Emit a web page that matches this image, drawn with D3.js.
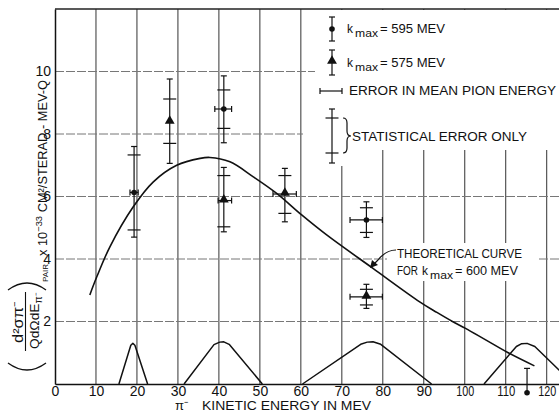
<!DOCTYPE html>
<html>
<head>
<meta charset="utf-8">
<script src="https://cdn.jsdelivr.net/npm/d3@7"></script>
<style>
  body { margin: 0; background: #fff; }
  text { font-family: "Liberation Sans", Arial, sans-serif; fill: #111; }
</style>
</head>
<body>
<script>
// tick labels
var xTicks = [0, 10, 20, 30, 40, 50, 60, 70, 80, 90, 100, 110, 120];
var yTicks = [2, 4, 6, 8, 10];

// theoretical curve for kmax = 600 MeV  (MeV, value)
var curveEnergy = [8.5, 10.2, 13.4, 19.1, 24, 29.7, 35.4, 37.8, 42.7, 48.4, 54.1, 60.2, 66.3, 77.6, 89, 93.2, 97, 100.2, 105, 110.6, 117];
var curveValue  = [2.85, 3.43, 4.39, 5.67, 6.47, 7.0, 7.22, 7.25, 7.11, 6.63, 6.1, 5.41, 4.77, 3.7, 2.63, 2.29, 2.0, 1.78, 1.42, 1.0, 0.58];

// energy resolution bumps along the bottom
var bumpEnergy = [
  [15.6, 18.5, 19, 19.5, 22.6],
  [31.5, 38.8, 40.2, 41.2, 42.5, 50.6],
  [60.4, 74.6, 76.2, 77.6, 79.5, 91.9],
  [104.7, 112.6, 113.9, 115.2, 117.1, 126.5]
];
var bumpValue = [
  [0, 1.24, 1.3, 1.24, 0],
  [0, 1.26, 1.34, 1.35, 1.27, 0],
  [0, 1.27, 1.34, 1.35, 1.27, 0],
  [0, 1.2, 1.29, 1.3, 1.2, 0]
];

// kmax = 595 MeV (circles)
var c595Energy = [19.3, 41.2, 76, 115.2];
var c595Value  = [6.13, 8.8, 5.25, -0.28];
var c595ELo    = [18.3, 39, 72, null];
var c595EHi    = [20.3, 43.1, 79.9, null];
var c595TotLo  = [4.7, 7.72, 4.69, -0.28];
var c595TotHi  = [7.6, 9.86, 5.83, 0.5];
var c595StatLo = [4.93, 8.18, 4.85, null];
var c595StatHi = [7.33, 9.41, 5.64, null];

// kmax = 575 MeV (triangles)
var t575Energy = [28, 41.2, 56.1, 76];
var t575Value  = [8.39, 5.87, 6.08, 2.79];
var t575ELo    = [null, 39.8, 53.2, 72];
var t575EHi    = [null, 43.1, 58.9, 79.9];
var t575TotLo  = [7.06, 4.87, 5.19, 2.42];
var t575TotHi  = [9.76, 6.93, 6.9, 3.19];
var t575StatLo = [7.7, 5.03, 5.46, 2.53];
var t575StatHi = [9.12, 6.67, 6.67, 3.03];

var W = 559, H = 413;
var x = d3.scaleLinear().domain([0, 123]).range([55, 559]);
var y = d3.scaleLinear().domain([0, 12]).range([384, 9]);

var svg = d3.select("body").append("svg").attr("width", W).attr("height", H);

// grid
svg.append("g").selectAll("line").data(xTicks.slice(1)).enter().append("line")
  .attr("x1", function(d){ return x(d); }).attr("x2", function(d){ return x(d); })
  .attr("y1", y(12)).attr("y2", y(0))
  .style("stroke", "#333").style("stroke-width", 1);
svg.append("g").selectAll("line").data(yTicks).enter().append("line")
  .attr("x1", x(0)).attr("x2", W)
  .attr("y1", function(d){ return y(d); }).attr("y2", function(d){ return y(d); })
  .style("stroke", "#777").style("stroke-width", 1).style("stroke-dasharray", "9,2");

// white areas behind legend and curve label
svg.append("rect").attr("x", 315).attr("y", 10).attr("width", 244).attr("height", 140).style("fill", "#fff");
svg.append("rect").attr("x", 303).attr("y", 100).attr("width", 60).attr("height", 66).style("fill", "#fff");
svg.append("rect").attr("x", 387).attr("y", 243).attr("width", 150).attr("height", 38).style("fill", "#fff");

// frame
svg.append("line").attr("x1", x(0)).attr("x2", W).attr("y1", y(12)).attr("y2", y(12))
  .style("stroke", "#222").style("stroke-width", 1.3);

var xAxis = svg.append("g").attr("transform", "translate(0," + y(0) + ")")
  .call(d3.axisBottom(x).tickValues(xTicks).tickSize(0).tickSizeOuter(0).tickPadding(2).tickFormat(d3.format("d")));
var yAxis = svg.append("g").attr("transform", "translate(" + x(0) + ",0)")
  .call(d3.axisLeft(y).tickValues(yTicks).tickSize(0).tickSizeOuter(0).tickPadding(4).tickFormat(d3.format("d")));
[xAxis, yAxis].forEach(function(a){
  a.select(".domain").style("stroke", "#111").style("stroke-width", 1.5);
  a.selectAll("text").style("font-size", "14px").style("fill", "#111")
    .style("font-family", "'Liberation Sans', Arial, sans-serif");
});
xAxis.selectAll(".tick text").filter(function(d){ return d >= 100; })
  .attr("textLength", 18).attr("lengthAdjust", "spacingAndGlyphs");

var line = d3.line().x(function(d){ return x(d[0]); }).y(function(d){ return y(d[1]); });

// theoretical curve
svg.append("path")
  .datum(curveEnergy.map(function(e, i){ return [e, curveValue[i]]; }))
  .attr("d", line.curve(d3.curveCatmullRom))
  .style("fill", "none").style("stroke", "#111").style("stroke-width", 1.6);

// resolution bumps
svg.append("g").selectAll("path").data(bumpEnergy).enter().append("path")
  .attr("d", function(es, k){
    return d3.line().x(function(d){ return x(d[0]); }).y(function(d){ return y(d[1]); })
      .curve(d3.curveLinear)(es.map(function(e, i){ return [e, bumpValue[k][i]]; }));
  })
  .style("fill", "none").style("stroke", "#111").style("stroke-width", 1.5).style("stroke-linejoin", "round");

function drawPoints(energy, value, eLo, eHi, totLo, totHi, statLo, statHi, shape){
  var g = svg.append("g").style("stroke", "#111").style("stroke-width", 1.2);
  energy.forEach(function(e, i){
    var cx = x(e);
    g.append("line").attr("x1", cx).attr("x2", cx).attr("y1", y(totLo[i])).attr("y2", y(totHi[i]));
    [totHi[i], totLo[i]].forEach(function(v, j){
      if (j == 1 && totLo[i] == value[i]) return;
      g.append("line").attr("x1", cx - 3).attr("x2", cx + 3).attr("y1", y(v)).attr("y2", y(v));
    });
    if (statLo[i] != null) [statLo[i], statHi[i]].forEach(function(v){
      g.append("line").attr("x1", cx - 6.5).attr("x2", cx + 6.5).attr("y1", y(v)).attr("y2", y(v));
    });
    if (eLo[i] != null){
      var cy = y(value[i]);
      g.append("line").attr("x1", x(eLo[i])).attr("x2", x(eHi[i])).attr("y1", cy).attr("y2", cy);
      [eLo[i], eHi[i]].forEach(function(v){
        g.append("line").attr("x1", x(v)).attr("x2", x(v)).attr("y1", cy - 3).attr("y2", cy + 3);
      });
    }
    if (shape == "circle"){
      svg.append("circle").attr("cx", cx).attr("cy", y(value[i])).attr("r", 2.8).style("fill", "#111");
    } else {
      svg.append("path").attr("d", d3.symbol(d3.symbolTriangle, 42)())
        .attr("transform", "translate(" + cx + "," + (y(value[i]) - 1) + ")").style("fill", "#111");
    }
  });
}
drawPoints(c595Energy, c595Value, c595ELo, c595EHi, c595TotLo, c595TotHi, c595StatLo, c595StatHi, "circle");
drawPoints(t575Energy, t575Value, t575ELo, t575EHi, t575TotLo, t575TotHi, t575StatLo, t575StatHi, "triangle");

// legend
var lg = svg.append("g").style("stroke", "#111").style("stroke-width", 1.2);
var lx = 332;
lg.append("line").attr("x1", lx).attr("x2", lx).attr("y1", 17).attr("y2", 41);
lg.append("line").attr("x1", lx - 3).attr("x2", lx + 3).attr("y1", 17).attr("y2", 17);
lg.append("line").attr("x1", lx - 3).attr("x2", lx + 3).attr("y1", 41).attr("y2", 41);
svg.append("circle").attr("cx", lx).attr("cy", 29).attr("r", 2.8).style("fill", "#111");
lg.append("line").attr("x1", lx).attr("x2", lx).attr("y1", 50).attr("y2", 75);
lg.append("line").attr("x1", lx - 3).attr("x2", lx + 3).attr("y1", 50).attr("y2", 50);
lg.append("line").attr("x1", lx - 3).attr("x2", lx + 3).attr("y1", 75).attr("y2", 75);
svg.append("path").attr("d", d3.symbol(d3.symbolTriangle, 42)())
  .attr("transform", "translate(" + lx + ",61)").style("fill", "#111");
lg.append("line").attr("x1", 320).attr("x2", 342).attr("y1", 91).attr("y2", 91);
lg.append("line").attr("x1", 320).attr("x2", 320).attr("y1", 88).attr("y2", 94);
lg.append("line").attr("x1", 342).attr("x2", 342).attr("y1", 88).attr("y2", 94);
lg.append("line").attr("x1", lx).attr("x2", lx).attr("y1", 109).attr("y2", 163);
lg.append("line").attr("x1", lx - 3).attr("x2", lx + 3).attr("y1", 109).attr("y2", 109);
lg.append("line").attr("x1", lx - 3).attr("x2", lx + 3).attr("y1", 163).attr("y2", 163);
lg.append("line").attr("x1", lx - 6.5).attr("x2", lx + 6.5).attr("y1", 118).attr("y2", 118);
lg.append("line").attr("x1", lx - 6.5).attr("x2", lx + 6.5).attr("y1", 153).attr("y2", 153);
lg.append("path").attr("d", "M343,118 Q347,118 347,123 L347,131 Q347,136 351,136 Q347,136 347,141 L347,148 Q347,153 343,153")
  .style("fill", "none");

function kmax(tx, ty, rest, restLen){
  svg.append("text").attr("x", tx).attr("y", ty).style("font-size", "12px").text("k");
  svg.append("text").attr("x", tx + 8).attr("y", ty + 4).style("font-size", "10px")
    .attr("textLength", 23).attr("lengthAdjust", "spacingAndGlyphs").text("max");
  svg.append("text").attr("x", tx + 33).attr("y", ty).style("font-size", "12px")
    .attr("textLength", restLen).attr("lengthAdjust", "spacingAndGlyphs").text(rest);
}
kmax(347, 33, "= 595 MEV", 65);
kmax(347, 67, "= 575 MEV", 65);
svg.append("text").attr("x", 349).attr("y", 95).style("font-size", "12px")
  .attr("textLength", 207).attr("lengthAdjust", "spacingAndGlyphs").text("ERROR IN MEAN PION ENERGY");
svg.append("text").attr("x", 352).attr("y", 141).style("font-size", "12px")
  .attr("textLength", 175).attr("lengthAdjust", "spacingAndGlyphs").text("STATISTICAL ERROR ONLY");

// curve label with leader
svg.append("text").attr("x", 397).attr("y", 258).style("font-size", "12px")
  .attr("textLength", 125).attr("lengthAdjust", "spacingAndGlyphs").text("THEORETICAL CURVE");
svg.append("text").attr("x", 397).attr("y", 275).style("font-size", "12px")
  .attr("textLength", 21).attr("lengthAdjust", "spacingAndGlyphs").text("FOR");
kmax(422, 275, "= 600 MEV", 63);
svg.append("path").attr("d", "M396,250 Q386,250 378,260 L374,264")
  .style("fill", "none").style("stroke", "#111").style("stroke-width", 1.2);
svg.append("path").attr("d", "M370,268 L372,260 L378,265 Z").style("fill", "#111");

// x title
svg.append("text").attr("x", 175).attr("y", 410).style("font-size", "13px").text("π⁻");
svg.append("text").attr("x", 202).attr("y", 410).style("font-size", "13px")
  .attr("textLength", 169).attr("lengthAdjust", "spacingAndGlyphs").text("KINETIC ENERGY IN MEV");

// y title (rotated)
var yt = svg.append("g").attr("transform", "translate(47,378) rotate(-90)");
yt.append("path").attr("d", "M15,-39 Q1,-20 15,-1").style("fill", "none").style("stroke", "#111").style("stroke-width", 1.3);
yt.append("path").attr("d", "M88,-39 Q102,-20 88,-1").style("fill", "none").style("stroke", "#111").style("stroke-width", 1.3);
yt.append("text").attr("x", 56).attr("y", -24.5).attr("text-anchor", "middle").style("font-size", "14px")
  .attr("textLength", 42).attr("lengthAdjust", "spacingAndGlyphs").text("d²σπ⁻");
yt.append("line").attr("x1", 27).attr("x2", 86).attr("y1", -21.5).attr("y2", -21.5).style("stroke", "#111").style("stroke-width", 1.1);
var den = yt.append("text").attr("x", 57).attr("y", -8).attr("text-anchor", "middle").style("font-size", "13px")
  .attr("textLength", 56).attr("lengthAdjust", "spacingAndGlyphs");
den.append("tspan").text("QdΩdE");
den.append("tspan").attr("dy", 3).style("font-size", "10px").text("π⁻");
yt.append("text").attr("x", 96).attr("y", 1).style("font-size", "8px").text("PAIR");
var yl = yt.append("text").attr("x", 122).attr("y", 0).style("font-size", "13px")
  .attr("textLength", 176).attr("lengthAdjust", "spacingAndGlyphs");
yl.append("tspan").text("x 10");
yl.append("tspan").attr("dy", -5).style("font-size", "9.5px").text("−33");
yl.append("tspan").attr("dy", 5).text(" CM²/STERAD - MEV-Q");
</script>
</body>
</html>
